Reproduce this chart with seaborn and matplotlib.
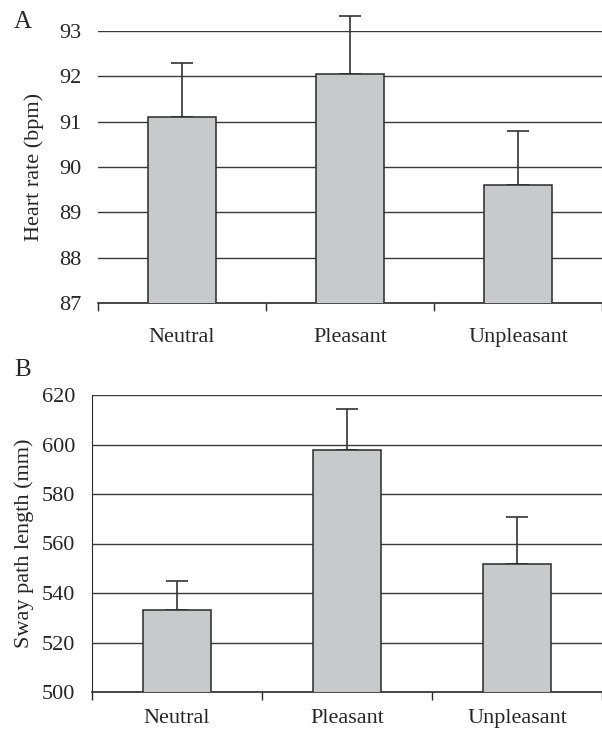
import matplotlib
matplotlib.use("Agg")
import matplotlib.pyplot as plt
import seaborn as sns
import numpy as np

# data
conditions = ["Neutral", "Pleasant", "Unpleasant"]
hr_mean = [91.1, 92.05, 89.6]
hr_err = [1.2, 1.27, 1.2]
sway_mean = [533.2, 597.6, 551.8]
sway_err = [11.8, 16.6, 18.8]

sns.set_style("white")
plt.rcParams["font.family"] = ["Liberation Serif", "DejaVu Serif"]
plt.rcParams["font.size"] = 16

BAR = "#c8c9cb"
EDGE = "#2a2a2a"
GRID = "#3a3a3a"

fig = plt.figure(figsize=(6.02, 7.33), dpi=100)
ax_a = fig.add_axes([98 / 602, 430 / 733, 504 / 602, 272 / 733])
ax_b = fig.add_axes([92 / 602, 41 / 733, 510 / 602, 297 / 733])


def draw_panel(ax, means, errs, ylim, yticks, ylabel, xpad, ypad, left_spine):
    sns.barplot(x=conditions, y=means, color=BAR, edgecolor=EDGE,
                linewidth=1.1, width=0.4, saturation=1, ax=ax, zorder=3)
    eb = ax.errorbar(np.arange(len(means)), means,
                     yerr=[np.zeros(len(errs)), errs],
                     fmt="none", ecolor="#333333", elinewidth=1.2, capsize=8,
                     capthick=1.2, zorder=2)
    for part in eb.lines[1] + eb.lines[2]:
        part.set_clip_on(False)
    ax.set_ylim(*ylim)
    ax.set_xlim(-0.5, 2.5)
    ax.set_yticks(yticks)
    ax.set_yticklabels([str(t) for t in yticks])
    ax.yaxis.grid(True, color=GRID, linewidth=1.0)
    ax.set_axisbelow(True)
    ax.set_xlabel("")
    ax.set_ylabel(ylabel, labelpad=ypad)
    for s in ["top", "right"]:
        ax.spines[s].set_visible(False)
    ax.spines["left"].set_visible(left_spine)
    ax.spines["left"].set_color(EDGE)
    ax.spines["bottom"].set_color(EDGE)
    ax.spines["bottom"].set_linewidth(1.2)
    ax.tick_params(axis="x", which="major", length=0, pad=xpad)
    ax.set_xticks([-0.5, 0.5, 1.5, 2.5], minor=True)
    ax.tick_params(axis="x", which="minor", length=6, width=1,
                   direction="out", color=EDGE, bottom=True)
    ax.tick_params(axis="y", length=0, pad=12)


draw_panel(ax_a, hr_mean, hr_err, (87, 93), list(range(87, 94)),
           "Heart rate (bpm)", 18, 11, False)
draw_panel(ax_b, sway_mean, sway_err, (500, 620), list(range(500, 621, 20)),
           "Sway path length (mm)", 12, 6, True)

fig.text(14 / 602, 1 - 22 / 733, "A", fontsize=18, va="center", ha="left")
fig.text(14 / 602, 1 - 370 / 733, "B", fontsize=18, va="center", ha="left")

fig.savefig("out.png", dpi=100)
